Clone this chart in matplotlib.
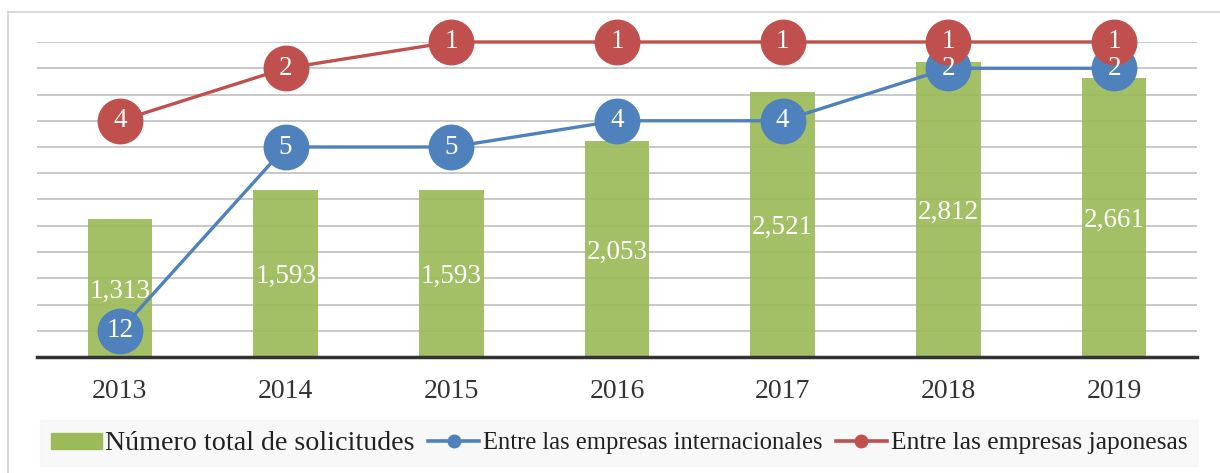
import matplotlib.pyplot as plt
from matplotlib.lines import Line2D
from matplotlib.patches import Patch

years = ["2013", "2014", "2015", "2016", "2017", "2018", "2019"]
total_requests = [1313, 1593, 1593, 2053, 2521, 2812, 2661]
rank_international = [12, 5, 5, 4, 4, 2, 2]
rank_japanese = [4, 2, 1, 1, 1, 1, 1]

legend_labels = ["Número total de solicitudes",
                 "Entre las empresas internacionales",
                 "Entre las empresas japonesas"]

GREEN = "#9BBB59"
BLUE = "#4F81BD"
RED = "#C0504D"

plt.rcParams['font.family'] = ['Liberation Serif', 'DejaVu Serif']

fig = plt.figure(figsize=(12.2, 4.73), dpi=100)

# light frame around the chart (left and top edges visible)
fig.add_artist(Line2D([8 / 1220, 8 / 1220], [0, 1 - 12 / 473], color="#D4D4D4", lw=1.2))
fig.add_artist(Line2D([8 / 1220, 1], [1 - 12 / 473, 1 - 12 / 473], color="#D4D4D4", lw=1.2))

ax = fig.add_axes([37 / 1220, 1 - 357 / 473, (1197 - 37) / 1220, (357 - 42) / 473])
x = list(range(len(years)))

ax.bar(x, total_requests, width=0.39, color=GREEN, alpha=0.92, zorder=2)
ax.set_xlim(-0.5, len(years) - 0.5)
ax.set_ylim(0, 3000)
ax.set_yticks(range(0, 3001, 250))
ax.yaxis.grid(True, color="#C4C4C4", lw=1.3, zorder=0)
ax.set_axisbelow(True)
ax.set_xticks(x)
ax.set_xticklabels(years)
for s in ["top", "right", "left"]:
    ax.spines[s].set_visible(False)
ax.spines["bottom"].set_color("#333333")
ax.spines["bottom"].set_linewidth(2.5)
ax.spines["bottom"].set_zorder(3)

for xi, v in zip(x, total_requests):
    ax.annotate(f"{v:,}", (xi, v / 2), xytext=(0, -3), textcoords="offset pixels",
                ha="center", va="center", color="white", fontsize=19.5, zorder=3)

ax2 = ax.twinx()
ax2.set_ylim(13, 1)
ax2.axis("off")
ax2.plot(x, rank_international, color=BLUE, lw=2.4, marker="o", ms=32,
         markeredgecolor=BLUE, zorder=4, clip_on=False)
ax2.plot(x, rank_japanese, color=RED, lw=2.4, marker="o", ms=32,
         markeredgecolor=RED, zorder=5, clip_on=False)
for xi, r in zip(x, rank_international):
    ax2.text(xi, r, str(r), ha="center", va="center", color="white",
             fontsize=19.5, zorder=6)
for xi, r in zip(x, rank_japanese):
    ax2.text(xi, r, str(r), ha="center", va="center", color="white",
             fontsize=19.5, zorder=7)

# twinx turns the left ticks back on, so hide them afterwards
ax.tick_params(axis="y", left=False, labelleft=False)
ax.tick_params(axis="x", bottom=False, labelsize=20, colors="#333333", pad=12)

handles = [Patch(color=GREEN),
           Line2D([], [], color=BLUE, lw=2.6, marker="o", ms=9),
           Line2D([], [], color=RED, lw=2.6, marker="o", ms=9)]
leg = fig.legend(handles, legend_labels, loc="center", ncol=3,
                 bbox_to_anchor=(619 / 1220, 1 - 443 / 473), fontsize=17.5,
                 frameon=True, fancybox=False, handlelength=2.1, handleheight=0.6,
                 handletextpad=0.15, columnspacing=0.55, borderpad=0.45)
leg.get_frame().set_facecolor("#F7F7F7")
leg.get_frame().set_edgecolor("#F7F7F7")
for t, size in zip(leg.get_texts(), [20.2, 17.7, 18.4]):
    t.set_color("#222222")
    t.set_fontsize(size)

fig.savefig("out.png", dpi=100)
